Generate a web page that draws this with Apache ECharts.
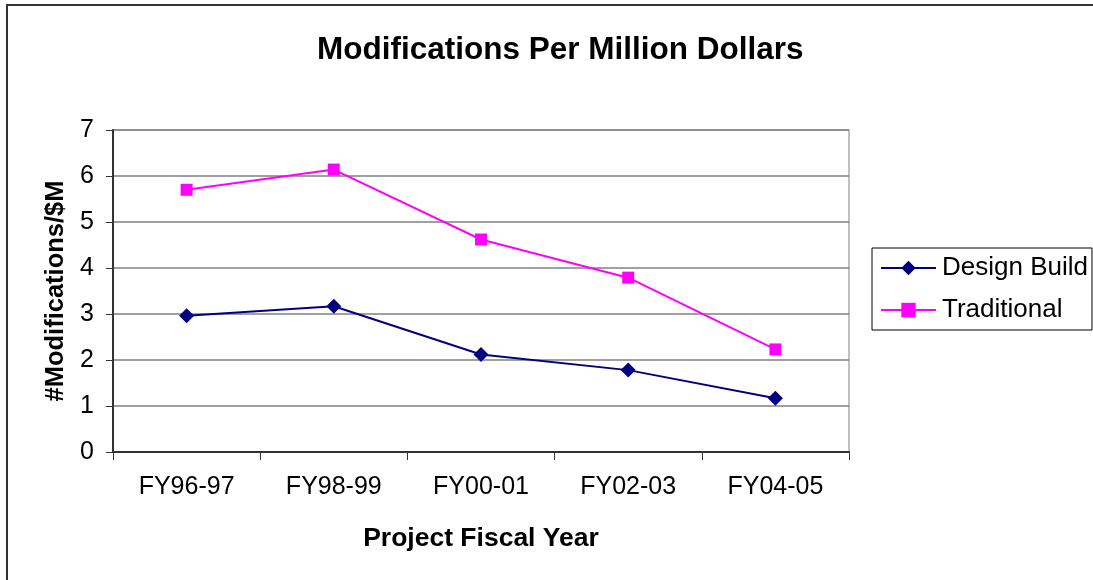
<!DOCTYPE html>
<html>
<head>
<meta charset="utf-8">
<script src="https://cdn.jsdelivr.net/npm/echarts@6/dist/echarts.min.js"></script>
<style>
  html, body { margin: 0; padding: 0; background: #fff; }
  #chart { width: 1093px; height: 580px; }
</style>
</head>
<body>
<div id="chart"></div>
<script>
// 数据
var years = ["FY96-97", "FY98-99", "FY00-01", "FY02-03", "FY04-05"];
var designBuild = [2.96, 3.17, 2.12, 1.78, 1.17];
var traditional = [5.70, 6.14, 4.62, 3.79, 2.23];
var yTicks = { min: 0, max: 7, interval: 1 };

var font = "'Liberation Sans', Arial, sans-serif";
var myChart = echarts.init(document.getElementById("chart"));
myChart.setOption({
  animation: false,
  backgroundColor: "#fff",
  textStyle: { fontFamily: font },
  graphic: [
    {
      // 外框
      type: "rect",
      shape: { x: 7, y: 5, width: 1300, height: 800 },
      style: { fill: null, stroke: "#333", lineWidth: 2 },
    },
  ],
  title: {
    text: "Modifications Per Million Dollars",
    left: 312,
    top: 29,
    textStyle: {
      fontFamily: font,
      fontSize: 31.5,
      fontWeight: "bold",
      color: "#000",
    },
  },
  legend: {
    orient: "vertical",
    left: 872,
    top: 248,
    data: ["Design Build", "Traditional"],
    borderColor: "#000",
    borderWidth: 1,
    padding: [7, 4, 7, 8],
    itemWidth: 55,
    itemHeight: 18,
    itemGap: 16,
    textStyle: {
      fontFamily: font,
      fontSize: 26,
      color: "#000",
      padding: [0, 0, 0, 1],
    },
  },
  grid: {
    left: 113,
    right: 244,
    top: 130,
    bottom: 128,
    show: true,
    borderColor: "#808080",
    borderWidth: 1,
  },
  xAxis: {
    type: "category",
    data: years,
    boundaryGap: true,
    name: "Project Fiscal Year",
    nameLocation: "middle",
    nameGap: 73,
    nameTextStyle: {
      fontFamily: font,
      fontSize: 26.5,
      fontWeight: "bold",
      color: "#000",
    },
    axisLine: { lineStyle: { color: "#333", width: 2 } },
    axisTick: { show: true, length: 8, lineStyle: { color: "#333" } },
    axisLabel: { fontSize: 25, color: "#000", margin: 23, fontFamily: font },
    splitLine: { show: false },
  },
  yAxis: {
    type: "value",
    min: yTicks.min,
    max: yTicks.max,
    interval: yTicks.interval,
    name: "#Modifications/$M",
    nameLocation: "middle",
    nameGap: 42,
    nameTextStyle: {
      fontFamily: font,
      fontSize: 25.5,
      fontWeight: "bold",
      color: "#000",
    },
    axisLine: { show: true, lineStyle: { color: "#333", width: 2 } },
    axisTick: { show: true, length: 7, lineStyle: { color: "#333" } },
    axisLabel: { fontSize: 25, color: "#000", margin: 19, fontFamily: font },
    splitLine: { show: true, lineStyle: { color: "#808080", width: 1.5 } },
  },
  series: [
    {
      name: "Design Build",
      type: "line",
      data: designBuild,
      symbol: "diamond",
      symbolSize: 15,
      itemStyle: { color: "#000080" },
      lineStyle: { color: "#000080", width: 2 },
    },
    {
      name: "Traditional",
      type: "line",
      data: traditional,
      symbol: "rect",
      symbolSize: 12,
      itemStyle: { color: "#FF00FF" },
      lineStyle: { color: "#FF00FF", width: 2 },
    },
  ],
});
</script>
</body>
</html>
